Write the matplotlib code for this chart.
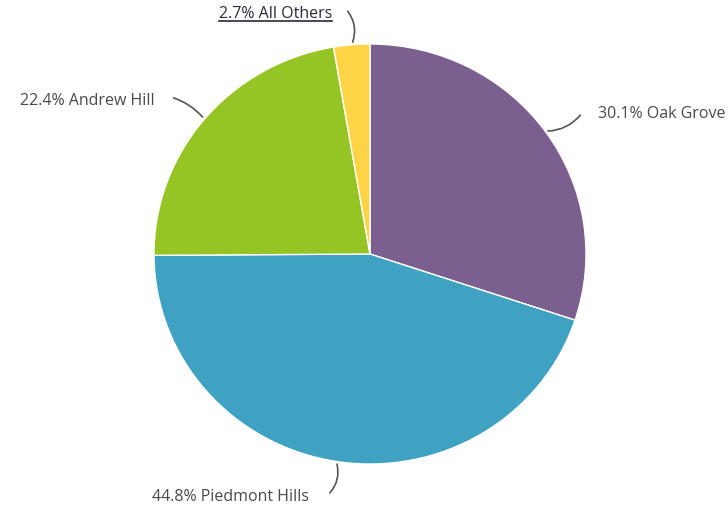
import matplotlib.pyplot as plt
import numpy as np
from matplotlib.patches import FancyArrowPatch

names = ["Oak Grove", "Piedmont Hills", "Andrew Hill", "All Others"]
shares = [30.1, 44.8, 22.4, 2.7]
colors = ["#7b5f8f", "#3fa2c2", "#95c524", "#fdd445"]

# label anchors and leader line ends, in screen pixels (y down)
label_pos = [(598, 114, "left"), (309, 497, "right"), (155, 101, "right"), (332, 14, "right")]
line_end = [(582, 113), (328, 495), (171, 97), (346, 9)]
line_rad = [0.25, -0.3, 0.15, 0.3]

# pie centre and radii in screen pixels (picture is a little wider than tall)
cx, cy, rx, ry = 370, 254, 216, 210


def px(x, y):
    return (x - cx) / rx, (cy - y) / ry


fig = plt.figure(figsize=(7.28, 5.07), dpi=100)
ax = fig.add_axes([0, 0, 1, 1])
wedges, _ = ax.pie(shares, colors=colors, startangle=90, counterclock=False,
                   radius=1, frame=True,
                   wedgeprops=dict(edgecolor="white", linewidth=1))
ax.set_aspect("auto")
ax.set_xlim(-cx / rx, (728 - cx) / rx)
ax.set_ylim((cy - 507) / ry, cy / ry)
ax.axis("off")

for i, w in enumerate(wedges):
    mid = np.deg2rad((w.theta1 + w.theta2) / 2)
    sx, sy = np.cos(mid), np.sin(mid)
    arr = FancyArrowPatch((sx, sy), px(*line_end[i]), arrowstyle="-",
                          connectionstyle=f"arc3,rad={line_rad[i]}",
                          color="#555555", linewidth=1.2)
    ax.add_patch(arr)
    lx, ly, ha = label_pos[i]
    col = "#2b2b3b" if names[i] == "All Others" else "#4a4a4a"
    t = ax.text(*px(lx, ly), f"{shares[i]:.1f}% {names[i]}", ha=ha, va="center",
                fontsize=11.5, family=["Open Sans", "DejaVu Sans"], color=col)
    if names[i] == "All Others":
        fig.canvas.draw()
        bb = t.get_window_extent()
        inv = ax.transData.inverted()
        (x0, y0), (x1, _) = inv.transform([(bb.x0, bb.y0 + 1), (bb.x1, bb.y0)])
        ax.plot([x0, x1], [y0, y0], color=col, linewidth=1.2)

fig.savefig("out.png", dpi=100)
